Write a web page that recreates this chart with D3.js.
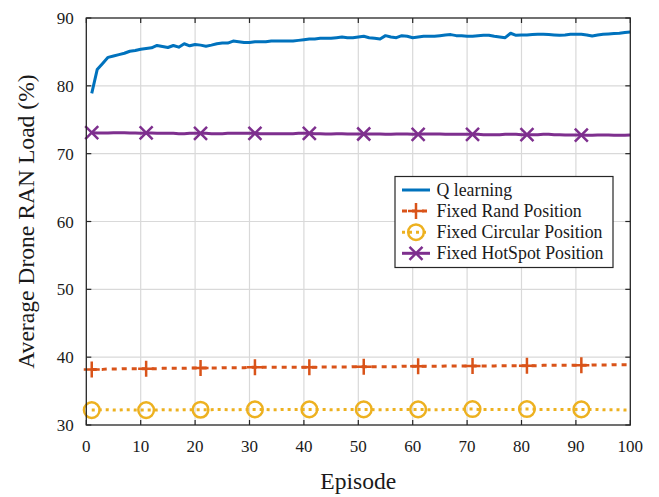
<!DOCTYPE html>
<html><head><meta charset="utf-8">
<script src="https://cdn.jsdelivr.net/npm/d3@7"></script>
<style>body{margin:0;background:#fff}svg{display:block}</style>
</head><body>
<svg id="c" width="659" height="497"></svg>
<script>
const episodes = d3.range(1, 101);
const qLearning = [78.9,82.4,83.3,84.2,84.4,84.6,84.8,85.1,85.2,85.4,
85.5,85.6,85.95,85.8,85.65,85.95,85.7,86.2,85.9,86.1,
86.0,85.85,86.0,86.2,86.3,86.3,86.6,86.5,86.4,86.4,
86.5,86.5,86.5,86.6,86.6,86.6,86.6,86.6,86.7,86.8,
86.9,86.9,87.0,87.0,87.0,87.1,87.2,87.1,87.1,87.2,
87.3,87.1,87.0,86.9,87.4,87.2,87.1,87.4,87.3,87.1,
87.2,87.3,87.3,87.3,87.4,87.5,87.55,87.4,87.4,87.3,
87.3,87.4,87.45,87.45,87.3,87.2,87.1,87.75,87.45,87.5,
87.5,87.55,87.6,87.6,87.55,87.5,87.45,87.5,87.6,87.6,
87.6,87.5,87.35,87.5,87.6,87.65,87.7,87.75,87.85,87.95];
const fixedRand = [38.2,38.2,38.2,38.25,38.25,38.25,38.3,38.3,38.3,38.3,
38.3,38.3,38.3,38.35,38.35,38.35,38.35,38.35,38.4,38.4,
38.4,38.4,38.4,38.4,38.45,38.45,38.45,38.45,38.45,38.5,
38.5,38.5,38.5,38.5,38.5,38.5,38.5,38.5,38.5,38.5,
38.5,38.5,38.55,38.55,38.55,38.55,38.55,38.55,38.6,38.6,
38.6,38.6,38.6,38.6,38.6,38.6,38.6,38.65,38.65,38.65,
38.65,38.65,38.65,38.65,38.65,38.7,38.7,38.7,38.7,38.7,
38.7,38.7,38.7,38.7,38.7,38.75,38.75,38.75,38.75,38.75,
38.75,38.75,38.75,38.8,38.8,38.8,38.8,38.8,38.8,38.8,
38.8,38.8,38.85,38.85,38.85,38.85,38.9,38.9,38.9,38.9];
const fixedCircular = [32.2,32.2,32.25,32.25,32.2,32.2,32.25,32.25,32.2,32.2,
32.2,32.2,32.2,32.25,32.25,32.2,32.2,32.25,32.25,32.25,
32.25,32.25,32.25,32.3,32.3,32.25,32.25,32.25,32.3,32.3,
32.3,32.3,32.3,32.25,32.25,32.3,32.3,32.3,32.3,32.3,
32.3,32.3,32.3,32.3,32.25,32.25,32.3,32.3,32.3,32.3,
32.3,32.3,32.25,32.25,32.25,32.3,32.3,32.3,32.3,32.3,
32.3,32.3,32.25,32.25,32.25,32.3,32.3,32.3,32.3,32.35,
32.35,32.3,32.3,32.3,32.3,32.3,32.3,32.3,32.3,32.35,
32.35,32.35,32.3,32.3,32.3,32.3,32.3,32.3,32.3,32.3,
32.3,32.3,32.3,32.3,32.25,32.25,32.25,32.25,32.2,32.2];
const fixedHotSpot = [73.1,73.05,73.05,73.05,73.1,73.1,73.1,73.05,73.05,73.0,
73.05,73.05,73.0,73.0,73.0,73.0,72.95,72.95,73.0,73.0,
73.0,73.0,72.95,72.95,72.95,73.0,73.0,73.0,73.0,73.0,
73.0,72.95,72.95,72.95,72.95,72.95,72.95,72.95,73.0,73.0,
73.0,72.95,72.95,72.9,72.9,72.95,72.95,72.9,72.9,72.9,
72.9,72.9,72.9,72.9,72.85,72.85,72.9,72.9,72.9,72.85,
72.85,72.9,72.9,72.9,72.9,72.85,72.85,72.85,72.85,72.85,
72.85,72.85,72.8,72.8,72.8,72.8,72.85,72.85,72.85,72.8,
72.8,72.8,72.8,72.85,72.85,72.8,72.8,72.75,72.75,72.75,
72.75,72.7,72.7,72.75,72.75,72.75,72.7,72.7,72.7,72.75];
const xTicks = [0,10,20,30,40,50,60,70,80,90,100];
const yTicks = [30,40,50,60,70,80,90];
const seriesNames = ["Q learning","Fixed Rand Position","Fixed Circular Position","Fixed HotSpot Position"];

const svg = d3.select("#c");
const L = 86.3, R = 630.3, T = 18, B = 425;
const x = d3.scaleLinear().domain([0,100]).range([L,R]);
const y = d3.scaleLinear().domain([30,90]).range([B,T]);
const font = "'Liberation Serif','Times New Roman',serif";
const axisCol = "#262626";

// grid
const g = svg.append("g");
g.selectAll(".gx").data(xTicks.slice(1,-1)).enter().append("line")
 .attr("x1",d=>x(d)).attr("x2",d=>x(d)).attr("y1",T).attr("y2",B)
 .attr("stroke","#d9d9d9").attr("stroke-width",1.2);
g.selectAll(".gy").data(yTicks.slice(1,-1)).enter().append("line")
 .attr("y1",d=>y(d)).attr("y2",d=>y(d)).attr("x1",L).attr("x2",R)
 .attr("stroke","#d9d9d9").attr("stroke-width",1.2);

const series = [
 {name:seriesNames[0], data:qLearning, color:"#0072BD", dash:null, marker:null, w:3},
 {name:seriesNames[1], data:fixedRand, color:"#D95319", dash:"5,5", marker:"plus", w:3},
 {name:seriesNames[2], data:fixedCircular, color:"#EDB120", dash:"3,4", marker:"circle", w:3},
 {name:seriesNames[3], data:fixedHotSpot, color:"#7E2F8E", dash:null, marker:"cross", w:3}
];
const line = d3.line().x((d,i)=>x(episodes[i])).y(d=>y(d));

function drawMarker(sel, type, cx, cy, color){
  if(type==="plus"){
    sel.append("path").attr("d",`M${cx-8},${cy}H${cx+8}M${cx},${cy-8}V${cy+8}`)
      .attr("stroke",color).attr("stroke-width",2.5).attr("fill","none");
  } else if(type==="cross"){
    sel.append("path").attr("d",`M${cx-6.5},${cy-6.5}L${cx+6.5},${cy+6.5}M${cx-6.5},${cy+6.5}L${cx+6.5},${cy-6.5}`)
      .attr("stroke",color).attr("stroke-width",2.5).attr("fill","none");
  } else if(type==="circle"){
    sel.append("circle").attr("cx",cx).attr("cy",cy).attr("r",7.8)
      .attr("stroke",color).attr("stroke-width",2.5).attr("fill","none");
  }
}

const plot = svg.append("g");
series.slice().reverse().forEach(s=>{
  plot.append("path").attr("d",line(s.data)).attr("fill","none")
    .attr("stroke",s.color).attr("stroke-width",s.w)
    .attr("stroke-dasharray",s.dash).attr("stroke-linejoin","round");
  if(s.marker){
    episodes.forEach((e,i)=>{ if((e-1)%10===0) drawMarker(plot,s.marker,x(e),y(s.data[i]),s.color); });
  }
});

// axes box
svg.append("rect").attr("x",L).attr("y",T).attr("width",R-L).attr("height",B-T)
 .attr("fill","none").attr("stroke",axisCol).attr("stroke-width",1.3);
// ticks inward
const tk = svg.append("g").attr("stroke",axisCol).attr("stroke-width",1.2);
xTicks.forEach(d=>{
  tk.append("line").attr("x1",x(d)).attr("x2",x(d)).attr("y1",B).attr("y2",B-5);
  tk.append("line").attr("x1",x(d)).attr("x2",x(d)).attr("y1",T).attr("y2",T+5);
});
yTicks.forEach(d=>{
  tk.append("line").attr("y1",y(d)).attr("y2",y(d)).attr("x1",L).attr("x2",L+5);
  tk.append("line").attr("y1",y(d)).attr("y2",y(d)).attr("x1",R).attr("x2",R-5);
});
// tick labels
svg.selectAll(".xl").data(xTicks).enter().append("text")
 .attr("x",d=>x(d)).attr("y",B+27).attr("text-anchor","middle")
 .attr("font-family",font).attr("font-size",17).attr("fill","#1a1a1a").text(d=>d);
svg.selectAll(".yl").data(yTicks).enter().append("text")
 .attr("x",L-12.5).attr("y",d=>y(d)+6).attr("text-anchor","end")
 .attr("font-family",font).attr("font-size",17).attr("fill","#1a1a1a").text(d=>d);
// axis titles
svg.append("text").attr("x",(L+R)/2).attr("y",488.5).attr("text-anchor","middle")
 .attr("font-family",font).attr("font-size",23.6).attr("fill","#1a1a1a").text("Episode");
svg.append("text").attr("transform",`translate(34,${(T+B)/2}) rotate(-90)`)
 .attr("text-anchor","middle").attr("font-family",font).attr("font-size",23.6)
 .attr("fill","#1a1a1a").text("Average Drone RAN Load (%)");

// legend
const lg = svg.append("g");
lg.append("rect").attr("x",395).attr("y",176.5).attr("width",218).attr("height",91)
 .attr("fill","#fff").attr("stroke",axisCol).attr("stroke-width",1.2);
series.forEach((s,i)=>{
  const cy = 190 + i*21.1;
  lg.append("line").attr("x1",402).attr("x2",430).attr("y1",cy).attr("y2",cy)
    .attr("stroke",s.color).attr("stroke-width",s.w).attr("stroke-dasharray",s.dash);
  if(s.marker) drawMarker(lg,s.marker,416,cy,s.color);
  lg.append("text").attr("x",436.5).attr("y",cy+5.5).attr("font-family",font)
    .attr("font-size",17.8).attr("fill","#1a1a1a").text(s.name);
});
</script>
</body></html>
